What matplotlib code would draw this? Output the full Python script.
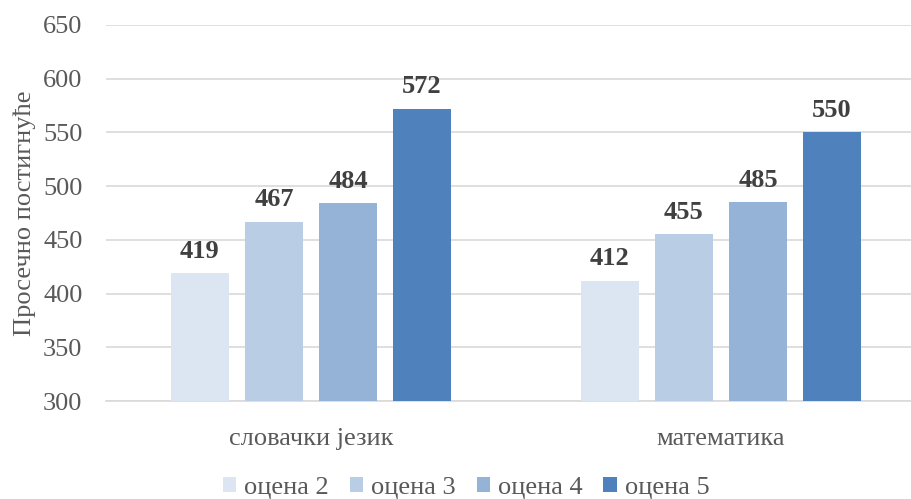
import matplotlib
matplotlib.use("Agg")
import matplotlib.pyplot as plt
from matplotlib.patches import Patch
import numpy as np

categories = ["словачки језик", "математика"]
series_names = ["оцена 2", "оцена 3", "оцена 4", "оцена 5"]
values = {
    "оцена 2": [419, 412],
    "оцена 3": [467, 455],
    "оцена 4": [484, 485],
    "оцена 5": [572, 550],
}
colors = ["#DCE6F2", "#B9CDE5", "#95B3D7", "#4F81BD"]
yticks = [300, 350, 400, 450, 500, 550, 600, 650]

plt.rcParams['font.family'] = ['Liberation Serif', 'DejaVu Serif']
FS = 19

fig = plt.figure(figsize=(9.11, 4.99), dpi=100)
ax = fig.add_axes([106/911, 1-401/499, 1-106/911, (401-25)/499])

x = np.arange(len(categories))
step = 0.1805
width = 0.142
for i, name in enumerate(series_names):
    pos = x + (i - 1.5) * step
    bars = ax.bar(pos, values[name], width=width, color=colors[i], zorder=3, bottom=0)
    for b, v in zip(bars, values[name]):
        ax.annotate(str(v), (b.get_x() + b.get_width()/2, v), xytext=(0, 7.5),
                    textcoords="offset points", ha="center", va="bottom",
                    fontsize=FS, fontweight="bold", color="#404040")

ax.set_ylim(300, 650)
ax.set_xlim(-0.5, 1.5 - 15/410)
ax.set_yticks(yticks)
ax.set_xticks(x)
ax.set_xticklabels(categories)
ax.tick_params(axis="y", length=0, pad=17, labelsize=FS, labelcolor="#595959")
ax.tick_params(axis="x", length=0, pad=19.5, labelsize=FS, labelcolor="#595959")
ax.grid(axis="y", color="#D9D9D9", linewidth=1.2, zorder=0)
for s in ["top", "right", "left"]:
    ax.spines[s].set_visible(False)
ax.spines["bottom"].set_color("#D9D9D9")
ax.spines["bottom"].set_linewidth(1.2)
ax.set_ylabel("Просечно постигнуће", fontsize=FS, color="#595959")
ax.yaxis.set_label_coords(-70/805, 0.5)

handles = [Patch(facecolor=c, edgecolor="none") for c in colors]
fig.legend(handles, series_names, loc="center", bbox_to_anchor=(466/911, 1-488/499),
           ncol=4, frameon=False, fontsize=FS, handlelength=0.5, handleheight=0.5,
           handletextpad=0.3, columnspacing=0.8, labelcolor="#595959",
           borderpad=0)

fig.savefig("out.png", dpi=100)
